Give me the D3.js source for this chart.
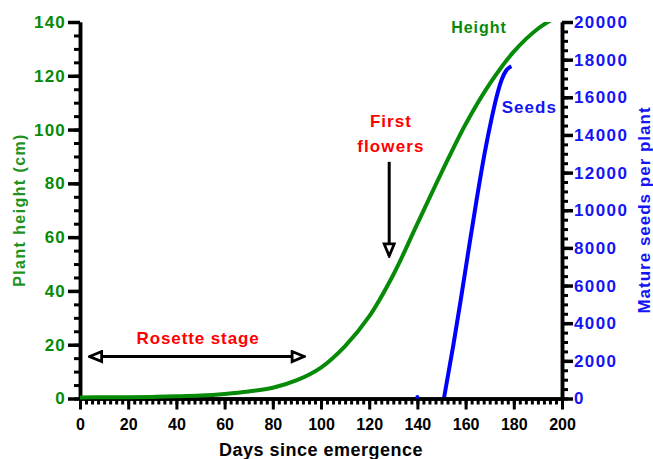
<!DOCTYPE html>
<html>
<head>
<script src="https://cdn.jsdelivr.net/npm/d3@7"></script>
<style>
  body { margin: 0; background: #fff; }
  svg text { font-family: "Liberation Sans", Arial, sans-serif; font-weight: bold; }
</style>
</head>
<body>
<svg id="chart"></svg>
<script>
// plant height (cm) by days since emergence
var heightDays = [0, 10, 20, 30, 40, 50, 60, 70, 80, 90, 100, 110, 120, 130, 140, 150, 160, 170, 180, 190, 200];
var heightCm = [0.4, 0.45, 0.5, 0.6, 0.8, 1.1, 1.7, 2.6, 4.0, 6.8, 11.5, 19.5, 30.5, 46, 65, 84, 102, 117, 129, 137.5, 143];

// mature seeds per plant (first point is a lone zero reading)
var seedDays = [140, 151, 155, 158, 161, 164.5, 168, 171, 173, 175, 177, 179];
var seedCount = [0, 0, 2900, 5250, 7700, 10500, 13100, 15000, 16100, 16950, 17450, 17650];

var xTicks = [0, 20, 40, 60, 80, 100, 120, 140, 160, 180, 200];
var leftTicks = [0, 20, 40, 60, 80, 100, 120, 140];
var rightTicks = [0, 2000, 4000, 6000, 8000, 10000, 12000, 14000, 16000, 18000, 20000];

var green = "#078a07", blue = "#0000ff", red = "#ff0000";

var width = 653, height = 459;
var svg = d3.select("#chart").attr("width", width).attr("height", height);

var x = d3.scaleLinear().domain([0, 200]).range([80, 562]);
var yL = d3.scaleLinear().domain([0, 140]).range([398.5, 22]);
var yR = d3.scaleLinear().domain([0, 20000]).range([398.5, 22]);

svg.append("defs").append("clipPath").attr("id", "plot")
  .append("rect").attr("x", 80).attr("y", 22).attr("width", 482).attr("height", 380);

// arrowhead (open triangle)
svg.select("defs").append("marker")
  .attr("id", "head")
  .attr("viewBox", "0 0 16 14")
  .attr("refX", 14).attr("refY", 7)
  .attr("markerWidth", 16).attr("markerHeight", 14)
  .attr("markerUnits", "userSpaceOnUse")
  .attr("orient", "auto-start-reverse")
  .append("path")
  .attr("d", "M2,2 L14,7 L2,12 Z")
  .attr("fill", "#fff").attr("stroke", "#000").attr("stroke-width", 2.8)
  .attr("stroke-linejoin", "miter");

// seeds line (under the axes), from the second point on
var seedLine = d3.line()
  .defined(function(d, i) { return i > 0; })
  .x(function(d, i) { return x(seedDays[i]); })
  .y(function(d) { return yR(d); })
  .curve(d3.curveMonotoneX);

svg.append("path")
  .datum(seedCount)
  .attr("clip-path", "url(#plot)")
  .attr("d", seedLine)
  .attr("fill", "none").attr("stroke", blue).attr("stroke-width", 4);

// axes
function styleAxis(g, w) {
  g.select(".domain").attr("stroke", "#000").attr("stroke-width", 3.5);
  g.selectAll(".tick line").attr("stroke", "#000").attr("stroke-width", w);
}

var gx = svg.append("g").attr("transform", "translate(0," + yL(0) + ")");
gx.append("g").call(d3.axisBottom(x).tickValues(d3.range(0, 200.1, 2.5)).tickSize(6).tickSizeOuter(0).tickFormat(""))
  .call(styleAxis, 3);
gx.append("g").call(d3.axisBottom(x).tickValues(xTicks).tickSize(11).tickSizeOuter(0))
  .call(styleAxis, 3)
  .selectAll("text").attr("y", 20).attr("font-size", 16).attr("fill", "#000").attr("font-family", null);

var gl = svg.append("g").attr("transform", "translate(" + x(0) + ",0)");
gl.append("g").call(d3.axisLeft(yL).tickValues(d3.range(0, 140.1, 5)).tickSize(6).tickSizeOuter(0).tickFormat(""))
  .call(styleAxis, 3);
gl.append("g").call(d3.axisLeft(yL).tickValues(leftTicks).tickSize(12).tickSizeOuter(0))
  .call(styleAxis, 3.5)
  .selectAll("text").attr("x", -14).attr("font-size", 17).attr("letter-spacing", 1.2)
  .attr("fill", green).attr("font-family", null);

var gr = svg.append("g").attr("transform", "translate(" + x(200) + ",0)");
gr.append("g").call(d3.axisRight(yR).tickValues(d3.range(0, 20001, 500)).tickSize(6).tickSizeOuter(0).tickFormat(""))
  .call(styleAxis, 3);
gr.append("g").call(d3.axisRight(yR).tickValues(rightTicks).tickSize(11).tickSizeOuter(0).tickFormat(d3.format("d")))
  .call(styleAxis, 3.5)
  .selectAll("text").attr("x", 12).attr("font-size", 17).attr("letter-spacing", 1.4)
  .attr("fill", "#1414f5").attr("font-family", null);

// lone dot at first seed point
svg.append("circle")
  .attr("cx", x(seedDays[0])).attr("cy", yR(seedCount[0]) - 1.5)
  .attr("r", 2).attr("fill", blue);

// height line
var heightLine = d3.line()
  .x(function(d, i) { return x(heightDays[i]); })
  .y(function(d) { return yL(d); })
  .curve(d3.curveCatmullRom.alpha(0.5));

svg.append("path")
  .datum(heightCm)
  .attr("clip-path", "url(#plot)")
  .attr("d", heightLine)
  .attr("fill", "none").attr("stroke", green).attr("stroke-width", 4);

// axis titles
svg.append("text")
  .attr("x", 321).attr("y", 456)
  .attr("text-anchor", "middle").attr("font-size", 18).attr("letter-spacing", 0.5)
  .text("Days since emergence");

svg.append("text")
  .attr("transform", "translate(25,210) rotate(-90)")
  .attr("text-anchor", "middle").attr("font-size", 16).attr("letter-spacing", 1.4)
  .attr("fill", "#1f921f")
  .text("Plant height (cm)");

svg.append("text")
  .attr("transform", "translate(650,210) rotate(-90)")
  .attr("text-anchor", "middle").attr("font-size", 17).attr("letter-spacing", 1)
  .attr("fill", "#1414f5")
  .text("Mature seeds per plant");

// series labels
svg.append("text").attr("x", x(154)).attr("y", yL(136))
  .attr("font-size", 16).attr("letter-spacing", 1).attr("fill", green).text("Height");
svg.append("text").attr("x", x(175)).attr("y", yR(15150))
  .attr("font-size", 17).attr("letter-spacing", 1).attr("fill", "#1414f5").text("Seeds");

// annotations
svg.append("text").attr("x", x(49)).attr("y", yL(20.1))
  .attr("text-anchor", "middle").attr("font-size", 17).attr("letter-spacing", 0.9)
  .attr("fill", red).text("Rosette stage");

svg.append("line")
  .attr("x1", x(4)).attr("y1", yL(15.6)).attr("x2", x(93)).attr("y2", yL(15.6))
  .attr("stroke", "#000").attr("stroke-width", 3)
  .attr("marker-start", "url(#head)").attr("marker-end", "url(#head)");

svg.append("text").attr("x", x(129)).attr("y", yL(101))
  .attr("text-anchor", "middle").attr("font-size", 17).attr("letter-spacing", 1)
  .attr("fill", red).text("First");
svg.append("text").attr("x", x(129)).attr("y", yL(91.5))
  .attr("text-anchor", "middle").attr("font-size", 17).attr("letter-spacing", 1.1)
  .attr("fill", red).text("flowers");

svg.append("line")
  .attr("x1", x(128.3)).attr("y1", yL(88)).attr("x2", x(128.3)).attr("y2", yL(53))
  .attr("stroke", "#000").attr("stroke-width", 3)
  .attr("marker-end", "url(#head)");
</script>
</body>
</html>
